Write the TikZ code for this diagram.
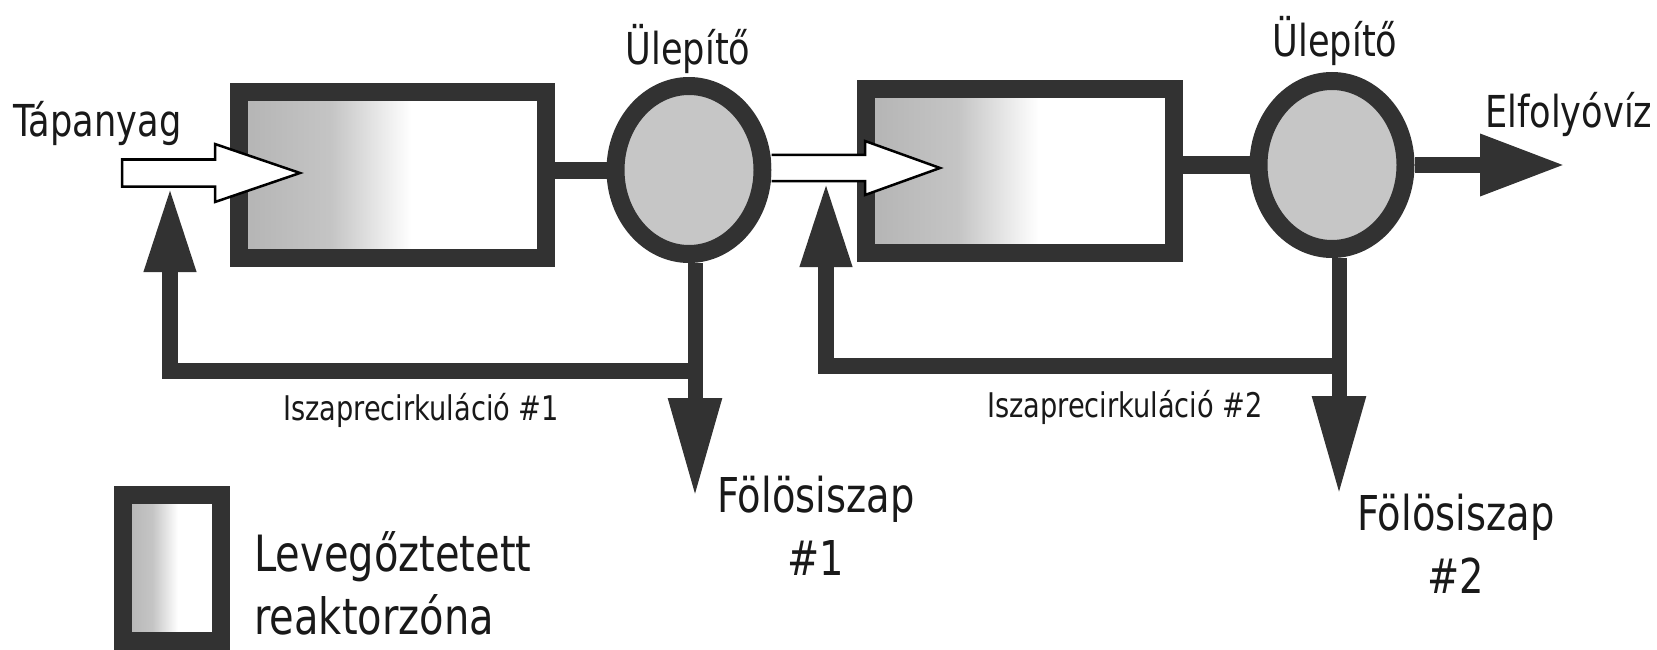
\documentclass[tikz,border=0pt]{standalone}
\usepackage{fontspec}
\setmainfont{DejaVu Sans}[FakeStretch=0.8]
\usetikzlibrary{arrows.meta,shapes.geometric,calc}

\definecolor{ink}{RGB}{50,50,50}
\definecolor{settle}{RGB}{198,198,198}
\definecolor{zone}{RGB}{182,182,182}
% aerated zone: grey on the inlet side, fading to white
\pgfdeclarehorizontalshading{aeration}{100bp}{color(0bp)=(zone); color(27bp)=(zone); color(40bp)=(zone!80!white); color(53bp)=(white); color(100bp)=(white)}

\tikzset{
  reactor/.style={draw=ink, line width=18pt, shade, shading=aeration, inner sep=0pt},
  settler/.style={ellipse, draw=ink, line width=18pt, fill=settle, inner sep=0pt,
    minimum width=147pt, minimum height=168pt},
  pipe/.style={draw=ink, line width=17pt, line join=miter},
  hollow/.style={draw=black, line width=2.5pt, fill=white, line join=miter},
  uptip/.style={-{Triangle[length=85pt,width=48pt]}},
  downtip/.style={-{Triangle[length=99pt,width=50pt]}},
  outtip/.style={-{Triangle[length=85pt,width=58pt]}},
  lbl/.style={inner sep=0pt, text=black!90, font=\fontsize{44}{50}\selectfont},
  biglbl/.style={inner sep=0pt, text=black!90, font=\fontsize{48}{54}\selectfont},
  leglbl/.style={inner sep=0pt, text=black!90, font=\fontsize{50}{56}\selectfont},
  smalllbl/.style={inner sep=0pt, text=black!90, font=\fontsize{34}{40}\selectfont},
}

\begin{document}
\begin{tikzpicture}[x=1pt,y=-1pt]
\path[use as bounding box] (0,0) rectangle (1657,650);

% reactors and settlers
\node[reactor, minimum width=307pt, minimum height=166pt] (r1) at (392.5,175) {};
\node[reactor, minimum width=308pt, minimum height=164pt] (r2) at (1020,171) {};
\node[settler] (c1) at (689,170) {};
\node[settler] (c2) at (1332,165) {};

% key points of the flow lines
\coordinate (feed) at (122,173);
\coordinate (tip1) at (300,173);
\coordinate (tip2) at (940,168);
\coordinate (t1) at (170,187);
\coordinate (t2) at (826,182);
\coordinate (j1) at (695,371);
\coordinate (j2) at (1339,366);
\coordinate (w1) at (695,497);
\coordinate (w2) at (1339,495);
\coordinate (eff) at (1565,165);

% reactor to settler
\draw[pipe] (c1.west -| r1.east) -- (c1.west);
\draw[pipe] (c2.west -| r2.east) -- (c2.west);

% excess sludge
\draw[pipe, line width=15pt, downtip] (c1.south -| w1) -- (w1);
\draw[pipe, line width=15pt, downtip] (c2.south -| w2) -- (w2);

% sludge recirculation
\draw[pipe, line width=16pt, uptip] (j1) -- (j1 -| t1) -- (t1);
\draw[pipe, line width=16pt, uptip] (j2) -- (j2 -| t2) -- (t2);

% effluent
\draw[pipe, line width=16pt, outtip] (c2.east) -- (eff);

% feed streams (hollow arrows)
\draw[hollow] ($(feed)+(0,-13.5)$) -- ($(tip1)+(-85,-13.5)$) -- ($(tip1)+(-85,-29)$)
  -- (tip1) -- ($(tip1)+(-85,29)$) -- ($(tip1)+(-85,13.5)$) -- ($(feed)+(0,13.5)$) -- cycle;
\draw[hollow] ($(c1.east |- tip2)+(0,-13)$) -- ($(tip2)+(-75,-13)$) -- ($(tip2)+(-75,-27)$)
  -- (tip2) -- ($(tip2)+(-75,27)$) -- ($(tip2)+(-75,13)$) -- ($(c1.east |- tip2)+(0,13)$);

% labels
\node[lbl, anchor=base west] (feedlbl) at (13,137) {Tápanyag};
\node[lbl, anchor=base] (s1lbl) at (688,65) {Ülepítő};
\node[lbl, anchor=base] (s2lbl) at (1335,57) {Ülepítő};
\node[lbl, anchor=base west] (efflbl) at (1485,128) {Elfolyóvíz};
\node[smalllbl, anchor=base west] (rc1) at (283,420) {Iszaprecirkuláció \#1};
\node[smalllbl, anchor=base east] (rc2) at (1263,417) {Iszaprecirkuláció \#2};
\node[biglbl, anchor=base west] (ws1) at (717,512) {Fölösiszap};
\node[biglbl, anchor=base] (ws1n) at ($(ws1.base)+(0,63)$) {\#1};
\node[biglbl, anchor=base west] (ws2) at (1357,530) {Fölösiszap};
\node[biglbl, anchor=base] (ws2n) at ($(ws2.base)+(0,63)$) {\#2};

% legend
\node[reactor, minimum width=98pt, minimum height=146pt] (key) at (172,568) {};
\node[leglbl, anchor=base west] (key1) at (254,571) {Levegőztetett};
\node[leglbl, anchor=base west] (key2) at (254,634) {reaktorzóna};
\end{tikzpicture}
\end{document}
